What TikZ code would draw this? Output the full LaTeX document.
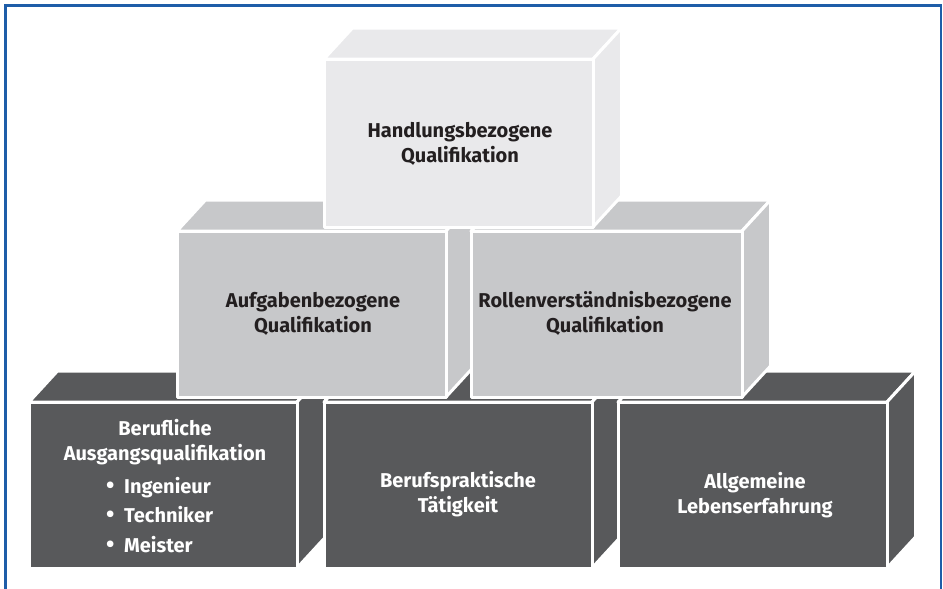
\documentclass[tikz,border=0pt]{standalone}
\usepackage{fontspec}
\setmainfont{Fira Sans}
\definecolor{frameblue}{RGB}{30,93,168}
\definecolor{cubelight}{RGB}{233,233,235}
\definecolor{cubemid}{RGB}{199,200,202}
\definecolor{cubedark}{RGB}{88,89,91}
\definecolor{inkdark}{RGB}{35,31,32}

% depth of the oblique projection
\newcommand\cdx{28.5}
\newcommand\cdy{31}
% \blockcube{x0}{y0}{x1}{y1}{colour}: front face from (x0,y0) to (x1,y1), plus top and right faces
\newcommand\blockcube[5]{%
  \filldraw[face,fill=#5] (#1,#2) -- (#1+\cdx,#2-\cdy) -- (#3+\cdx,#2-\cdy) -- (#3,#2) -- cycle;
  \filldraw[face,fill=#5] (#3,#2) -- (#3+\cdx,#2-\cdy) -- (#3+\cdx,#4-\cdy) -- (#3,#4) -- cycle;
  \filldraw[face,fill=#5] (#1,#2) rectangle (#3,#4);
}
% bullet item with a fixed indent
\newcommand\bulletitem{\makebox[18pt][l]{\fontsize{24}{25}\selectfont•}}

\begin{document}
\begin{tikzpicture}[x=1pt,y=-1pt,
  face/.style={draw=white,line width=3pt,line join=round},
  cubelabel/.style={font=\bfseries\fontsize{20}{25}\selectfont,align=center,anchor=base,inner sep=0pt},
  onlight/.style={cubelabel,text=inkdark},
  ondark/.style={cubelabel,text=white}]
\useasboundingbox (0,0) rectangle (943,589);
\fill[white] (0,0) rectangle (943,589);

% outer frame, open at the bottom
\draw[frameblue,line width=2.5pt] (5.5,589) -- (5.5,5.5) -- (941,5.5) -- (941,589);

% bottom row
\blockcube{29}{402}{297}{568}{cubedark}
\blockcube{324}{402}{592}{568}{cubedark}
\blockcube{618}{402}{887}{568}{cubedark}
% middle row
\blockcube{177}{231}{446}{397}{cubemid}
\blockcube{471}{231}{742}{397}{cubemid}
% top
\blockcube{324}{59}{593}{227}{cubelight}

% labels (anchored at the baseline of their last line)
\node[onlight] (handlung) at (460,162) {Handlungsbezogene\\Qualifikation};
\node[onlight] (aufgaben) at (313,332) {Aufgabenbezogene\\Qualifikation};
\node[onlight] (rollen) at (605,332) {Rollenverständnisbezogene\\Qualifikation};
\node[ondark] (beruflich) at (165,460) {Berufliche\\Ausgangsqualifikation};
\node[ondark,align=left,anchor=base west,font=\bfseries\fontsize{20}{29.5}\selectfont] (liste) at (106,552)
  {\bulletitem Ingenieur\\\bulletitem Techniker\\\bulletitem Meister};
\node[ondark] (praxis) at (458,512) {Berufspraktische\\Tätigkeit};
\node[ondark] (leben) at (755,513) {Allgemeine\\Lebenserfahrung};
\end{tikzpicture}
\end{document}
